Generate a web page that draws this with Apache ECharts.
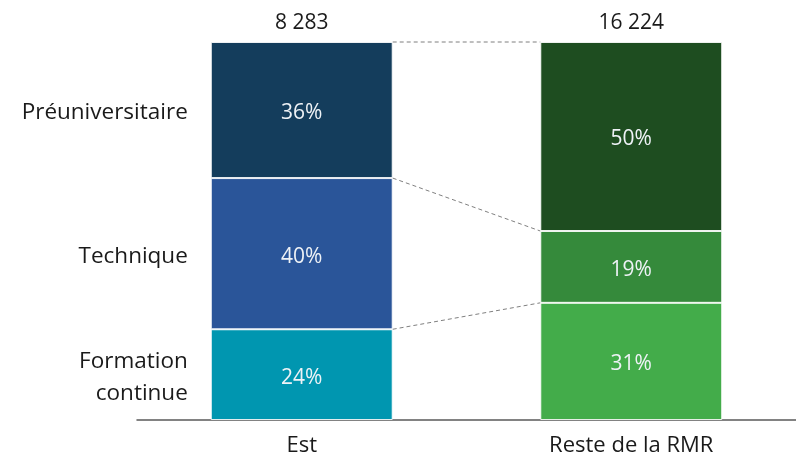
<!DOCTYPE html>
<html><head><meta charset="utf-8">
<script src="https://cdn.jsdelivr.net/npm/echarts@6/dist/echarts.min.js"></script>
<style>html,body{margin:0;padding:0;background:#fff}#c{width:796px;height:455px}</style>
</head><body><div id="c"></div>
<script>
const categories = ['Est', 'Reste de la RMR'];
const segmentNames = ['Formation\ncontinue', 'Technique', 'Préuniversitaire'];
const formation = [24, 31];
const technique = [40, 19];
const preuniv = [36, 50];
const totals = ['8 283', '16 224'];

const FONT = 'Open Sans';
const BAR_FRAC = 0.552;
const colorsEst = ['#0096b0', '#2a5599', '#143d5c'];
const colorsReste = ['#43ac4a', '#358a3b', '#1e4d20'];
const seriesVals = [formation, technique, preuniv];

const chart = echarts.init(document.getElementById('c'), null, {renderer: 'canvas'});

const barSeries = seriesVals.map((vals, k) => ({
  type: 'bar', stack: 'a', name: segmentNames[k], barWidth: (BAR_FRAC * 100) + '%',
  data: vals.map((v, i) => ({value: v, itemStyle: {color: i === 0 ? colorsEst[k] : colorsReste[k]}})),
  itemStyle: {borderColor: 'rgba(255,255,255,0.85)', borderWidth: 1},
  label: {show: true, position: 'inside', offset: [0, 3], formatter: '{c}%', color: '#eef2f6', fontFamily: FONT, fontSize: 21},
  emphasis: {disabled: true}, animation: false
}));

const cum = (arrs, i, n) => arrs.slice(0, n).reduce((s, a) => s + a[i], 0);
const connectorData = [1, 2, 3].map(n => [cum(seriesVals, 0, n), cum(seriesVals, 1, n)]);
const labelData = [0, 1, 2].map(k => [cum(seriesVals, 0, k) + seriesVals[k][0] / 2, k]);
const totalData = totals.map((t, i) => [i, cum(seriesVals, i, 3)]);

chart.setOption({
  animation: false,
  grid: {left: 137, right: 0, top: 42, bottom: 35, containLabel: false, outerBoundsMode: 'none'},
  xAxis: {type: 'category', data: categories,
    axisLine: {lineStyle: {color: '#595959', width: 1.5}}, axisTick: {show: false},
    axisLabel: {color: '#1a1a1a', fontFamily: FONT, fontSize: 22, margin: 15}},
  yAxis: {type: 'value', min: 0, max: 100, show: false},
  series: barSeries.concat([
    {type: 'custom', data: connectorData, encode: {y: [0, 1]}, silent: true, z: 1,
      renderItem: (params, api) => {
        const band = api.size([1, 0])[0];
        const half = band * BAR_FRAC / 2;
        const p0 = api.coord([0, api.value(0)]);
        const p1 = api.coord([1, api.value(1)]);
        return {type: 'line', shape: {x1: p0[0] + half, y1: p0[1], x2: p1[0] - half, y2: p1[1]},
          style: {stroke: '#7f7f7f', lineWidth: 1, lineDash: [4, 3]}};
      }},
    {type: 'custom', data: labelData, encode: {y: 0}, silent: true, clip: false,
      renderItem: (params, api) => {
        const band = api.size([1, 0])[0];
        const half = band * BAR_FRAC / 2;
        const p = api.coord([0, api.value(0)]);
        return {type: 'text', x: p[0] - half - 23, y: p[1] + 3,
          style: {text: segmentNames[api.value(1)], align: 'right', verticalAlign: 'middle',
            fill: '#1a1a1a', font: '22.5px "' + FONT + '"', lineHeight: 32}};
      }},
    {type: 'custom', data: totalData, encode: {y: 1}, silent: true, clip: false,
      renderItem: (params, api) => {
        const p = api.coord([api.value(0), api.value(1)]);
        return {type: 'text', x: p[0], y: p[1] - 8,
          style: {text: totals[params.dataIndex], align: 'center', verticalAlign: 'bottom',
            fill: '#1a1a1a', font: '21px "' + FONT + '"'}};
      }}
  ])
});
</script></body></html>
